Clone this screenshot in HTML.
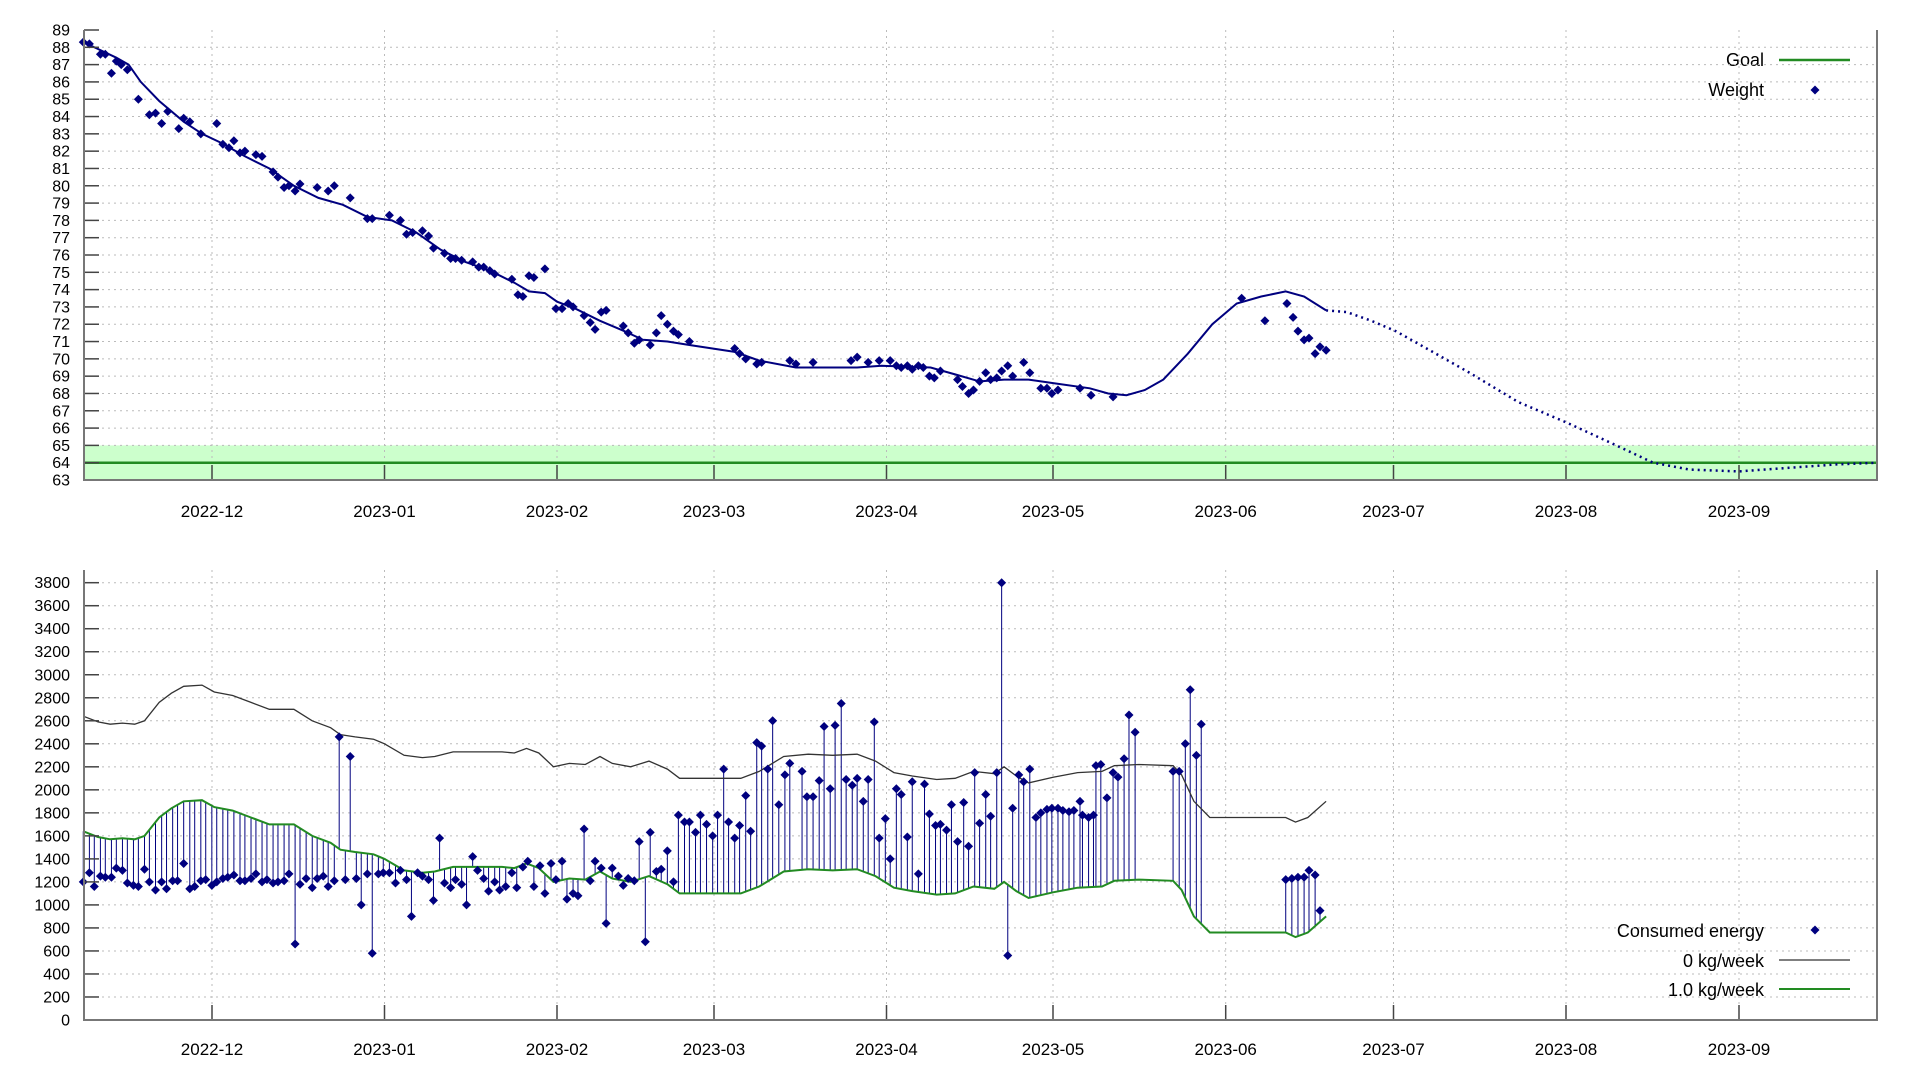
<!DOCTYPE html>
<html><head><meta charset="utf-8">
<style>
html,body{margin:0;padding:0;background:#fff;}
svg{display:block;font-family:"Liberation Sans",sans-serif;}
</style></head>
<body>
<svg id="s" width="1920" height="1080" viewBox="0 0 1920 1080" xmlns="http://www.w3.org/2000/svg">
<text x="1764" y="66" text-anchor="end" font-size="18">Goal</text>
<line x1="1779" y1="60" x2="1850" y2="60" stroke="#228b22" stroke-width="2.5"/>
<text x="1764" y="96" text-anchor="end" font-size="18">Weight</text>
<text x="1764" y="937" text-anchor="end" font-size="18">Consumed energy</text>
<text x="1764" y="967" text-anchor="end" font-size="18">0 kg/week</text>
<line x1="1779" y1="960" x2="1850" y2="960" stroke="#333" stroke-width="1.3"/>
<text x="1764" y="996" text-anchor="end" font-size="18">1.0 kg/week</text>
<line x1="1779" y1="989" x2="1850" y2="989" stroke="#228b22" stroke-width="2"/>
</svg>
<script>
var S=document.getElementById('s'),NS='http://www.w3.org/2000/svg';
function add(t,a,txt){var e=document.createElementNS(NS,t);for(var k in a)e.setAttribute(k,a[k]);if(txt!==undefined)e.textContent=txt;S.appendChild(e);return e;}
var F=1.2245,L=84,R=1877;
function X(x){return x*F;}
function YT(v){return 30+(89-v)*17.308;}
function YB(v){return 1020-v*0.11508;}
var months=[["2022-12",212],["2023-01",384.5],["2023-02",557],["2023-03",714],["2023-04",886.5],["2023-05",1053],["2023-06",1225.7],["2023-07",1393.5],["2023-08",1566],["2023-09",1739]];
function diamond(x,y,c){add('path',{d:'M'+x+' '+(y-4.5)+'L'+(x+4.5)+' '+y+'L'+x+' '+(y+4.5)+'L'+(x-4.5)+' '+y+'Z',fill:c||'#00007f'});}
function frame(top,bot,yt,vals){
 vals.forEach(function(v){var y=yt(v);if(y>top+1&&y<bot-1)add('line',{x1:L,y1:y,x2:R,y2:y,stroke:'#bbb','stroke-dasharray':'2,4','stroke-width':1});});
 months.forEach(function(m){add('line',{x1:m[1],y1:top,x2:m[1],y2:bot,stroke:'#bbb','stroke-dasharray':'2,4','stroke-width':1});});
}
function axes(top,bot,yt,vals,labY){
 vals.forEach(function(v){var y=yt(v);add('line',{x1:L,y1:y,x2:L+15,y2:y,stroke:'#444','stroke-width':1.5});
  add('text',{x:70,y:y+5.5,'text-anchor':'end','font-size':16},String(v));});
 months.forEach(function(m){add('line',{x1:m[1],y1:bot,x2:m[1],y2:bot-15,stroke:'#444','stroke-width':1.5});
  add('text',{x:m[1],y:labY,'text-anchor':'middle','font-size':17},m[0]);});
 add('path',{d:'M'+L+' '+top+'L'+L+' '+bot+'L'+R+' '+bot+'L'+R+' '+top,fill:'none',stroke:'#777','stroke-width':2});
}
var tv=[];for(var v=63;v<=89;v++)tv.push(v);
add('rect',{x:L,y:YT(65),width:R-L,height:YT(63)-YT(65),fill:'#ccffcc'});
frame(30,480,YT,tv);
add('line',{x1:L,y1:YT(64),x2:R,y2:YT(64),stroke:'#228b22','stroke-width':2.5});
function pl(pts,yf){return pts.map(function(p,i){return (i?'L':'M')+X(p[0]).toFixed(1)+' '+yf(p[1]).toFixed(1);}).join('');}
var trend=[[68,88.3],[80,87.9],[95,87.4],[105,87],[115,86],[130,84.9],[150,83.7],[165,83],[180,82.5],[200,81.7],[220,81],[240,80],[260,79.3],[280,78.9],[300,78.2],[320,78],[340,77.3],[360,76.3],[380,75.6],[400,75.1],[420,74.4],[432,73.9],[445,73.8],[455,73.3],[470,72.9],[490,72.2],[510,71.6],[525,71.1],[545,71],[563,70.8],[600,70.4],[620,69.9],[650,69.5],[700,69.5],[720,69.6],[760,69.5],[780,69.1],[800,68.7],[820,68.8],[840,68.8],[860,68.6],[890,68.3],[905,68],[920,67.9],[935,68.2],[950,68.8],[970,70.3],[990,72],[1010,73.2],[1030,73.6],[1050,73.9],[1065,73.6],[1083,72.8]];
add('path',{d:pl(trend,YT),fill:'none',stroke:'#00007f','stroke-width':2});
var fc=[[1083,72.8],[1100,72.7],[1120,72.2],[1140,71.6],[1170,70.4],[1200,69.2],[1240,67.5],[1280,66.3],[1320,65],[1350,64],[1380,63.6],[1420,63.5],[1460,63.7],[1500,63.9],[1533,64]];
add('path',{d:pl(fc,YT),fill:'none',stroke:'#00007f','stroke-width':2.5,'stroke-dasharray':'2,4'});
var wp=[[68,88.3],[73,88.2],[82,87.6],[86,87.6],[91,86.5],[95,87.2],[99,87],[104,86.7],[113,85],[122,84.1],[127,84.2],[132,83.6],[137,84.3],[146,83.3],[150,83.9],[155,83.7],[164,83],[177,83.6],[182,82.4],[187,82.2],[191,82.6],[196,81.9],[200,82],[209,81.8],[214,81.7],[223,80.8],[227,80.5],[232,79.9],[236,80],[241,79.7],[245,80.1],[259,79.9],[268,79.7],[273,80],[286,79.3],[300,78.1],[304,78.1],[318,78.3],[327,78],[332,77.2],[337,77.3],[345,77.4],[350,77.1],[354,76.4],[363,76.1],[368,75.8],[372,75.8],[377,75.7],[386,75.6],[391,75.3],[395,75.3],[400,75.1],[404,74.9],[418,74.6],[423,73.7],[427,73.6],[432,74.8],[436,74.7],[445,75.2],[454,72.9],[459,72.9],[464,73.2],[468,73],[477,72.5],[482,72.1],[486,71.7],[491,72.7],[495,72.8],[509,71.9],[513,71.5],[518,70.9],[522,71.1],[531,70.8],[536,71.5],[540,72.5],[545,72],[550,71.6],[554,71.4],[563,71],[600,70.6],[604,70.3],[609,70],[618,69.7],[622,69.8],[645,69.9],[650,69.7],[664,69.8],[695,69.9],[700,70.1],[709,69.8],[718,69.9],[727,69.9],[732,69.6],[736,69.5],[741,69.6],[745,69.4],[750,69.6],[754,69.5],[759,69],[763,68.9],[768,69.3],[782,68.8],[786,68.4],[791,68],[795,68.2],[800,68.7],[805,69.2],[809,68.8],[814,68.9],[818,69.3],[823,69.6],[827,69],[836,69.8],[841,69.2],[850,68.3],[855,68.3],[859,68],[864,68.2],[882,68.3],[891,67.9],[909,67.8],[1014,73.5],[1033,72.2],[1051,73.2],[1056,72.4],[1060,71.6],[1065,71.1],[1069,71.2],[1074,70.3],[1078,70.7],[1083,70.5]];
wp.forEach(function(p){diamond(X(p[0]),YT(p[1]));});
axes(30,480,YT,tv,517);
var bv=[];for(var v=0;v<=3800;v+=200)bv.push(v);
frame(570,1020,YB,bv);
var blk=[[68,2640],[80,2590],[90,2570],[100,2580],[110,2570],[118,2600],[130,2760],[140,2840],[150,2900],[165,2910],[175,2850],[190,2820],[205,2760],[220,2700],[240,2700],[255,2600],[270,2540],[278,2480],[290,2460],[305,2440],[314,2400],[330,2300],[345,2280],[355,2290],[370,2330],[390,2330],[410,2330],[420,2320],[430,2360],[440,2320],[452,2200],[465,2230],[478,2220],[490,2290],[500,2230],[515,2200],[530,2250],[545,2180],[555,2100],[570,2100],[590,2100],[605,2100],[620,2160],[640,2290],[660,2310],[680,2300],[700,2310],[715,2250],[730,2150],[745,2120],[765,2090],[780,2100],[795,2160],[812,2140],[820,2200],[830,2120],[840,2060],[860,2110],[880,2150],[900,2160],[910,2210],[930,2220],[958,2210],[965,2130],[975,1900],[988,1760],[1050,1760],[1058,1720],[1068,1760],[1083,1900]];
var grn=blk.map(function(p){return [p[0],p[1]-1000];});
function interp(arr,x){for(var i=1;i<arr.length;i++){if(x<=arr[i][0]){var a=arr[i-1],b=arr[i];return a[1]+(b[1]-a[1])*(x-a[0])/(b[0]-a[0]);}}return arr[arr.length-1][1];}
var cp=[[68,1200],[73,1280],[77,1160],[82,1250],[86,1240],[91,1240],[95,1320],[100,1300],[104,1190],[109,1170],[113,1160],[118,1310],[122,1200],[127,1130],[132,1200],[136,1140],[141,1210],[145,1210],[150,1360],[155,1140],[159,1160],[164,1210],[168,1220],[173,1170],[177,1200],[182,1230],[186,1240],[191,1260],[196,1210],[200,1210],[205,1230],[209,1270],[214,1200],[218,1220],[223,1190],[227,1200],[232,1210],[236,1270],[241,660],[245,1180],[250,1230],[255,1150],[259,1230],[264,1250],[268,1160],[273,1210],[277,2460],[282,1220],[286,2290],[291,1230],[295,1000],[300,1270],[304,580],[309,1270],[313,1280],[318,1280],[323,1190],[327,1300],[332,1220],[336,900],[341,1280],[345,1250],[350,1220],[354,1040],[359,1580],[363,1190],[368,1150],[372,1220],[377,1180],[381,1000],[386,1420],[390,1300],[395,1230],[399,1120],[404,1200],[408,1130],[413,1160],[418,1280],[422,1150],[427,1330],[431,1380],[436,1160],[441,1340],[445,1100],[450,1360],[454,1220],[459,1380],[463,1050],[468,1100],[472,1080],[477,1660],[482,1210],[486,1380],[491,1320],[495,840],[500,1320],[505,1250],[509,1170],[513,1230],[518,1210],[522,1550],[527,680],[531,1630],[536,1290],[540,1310],[545,1470],[550,1200],[554,1780],[559,1720],[563,1720],[568,1630],[572,1780],[577,1700],[582,1600],[586,1780],[591,2180],[595,1720],[600,1580],[604,1690],[609,1950],[613,1640],[618,2410],[622,2380],[627,2180],[631,2600],[636,1870],[641,2130],[645,2230],[650,2160],[654,1940],[659,1940],[664,2080],[668,2550],[673,2010],[677,2560],[682,2750],[686,2090],[691,2040],[695,2100],[700,1900],[704,2090],[709,2590],[713,1580],[718,1750],[722,1400],[727,2010],[731,1960],[736,1590],[740,2070],[745,1270],[750,2050],[754,1790],[759,1690],[763,1700],[768,1650],[772,1870],[777,1550],[782,1890],[786,1510],[791,2150],[795,1710],[800,1960],[804,1770],[809,2150],[813,3800],[818,560],[822,1840],[827,2130],[831,2070],[836,2180],[841,1760],[845,1800],[850,1830],[854,1840],[859,1840],[863,1820],[868,1810],[872,1820],[877,1900],[881,1780],[886,1760],[890,1780],[895,2210],[899,2220],[904,1930],[909,2150],[913,2110],[918,2270],[922,2650],[927,2500],[958,2160],[963,2160],[968,2400],[972,2870],[977,2300],[981,2570],[1050,1220],[1055,1230],[1060,1240],[1065,1240],[1069,1300],[1074,1260],[1078,950]];
cp=cp.map(function(p){var x=p[0];if(x>=650&&x<=880)x+=5;else if(x>880&&x<892)x+=3;return [x,p[1]];});
cp.forEach(function(p){var g=interp(grn,p[0]);add('line',{x1:X(p[0]),y1:YB(g),x2:X(p[0]),y2:YB(p[1]),stroke:'#00007f','stroke-width':1});});
add('path',{d:pl(blk,YB),fill:'none',stroke:'#333','stroke-width':1.3});
add('path',{d:pl(grn,YB),fill:'none',stroke:'#228b22','stroke-width':2});
cp.forEach(function(p){diamond(X(p[0]),YB(p[1]));});
axes(570,1020,YB,bv,1055);
diamond(1815,90);diamond(1815,930);
</script>
</body></html>
